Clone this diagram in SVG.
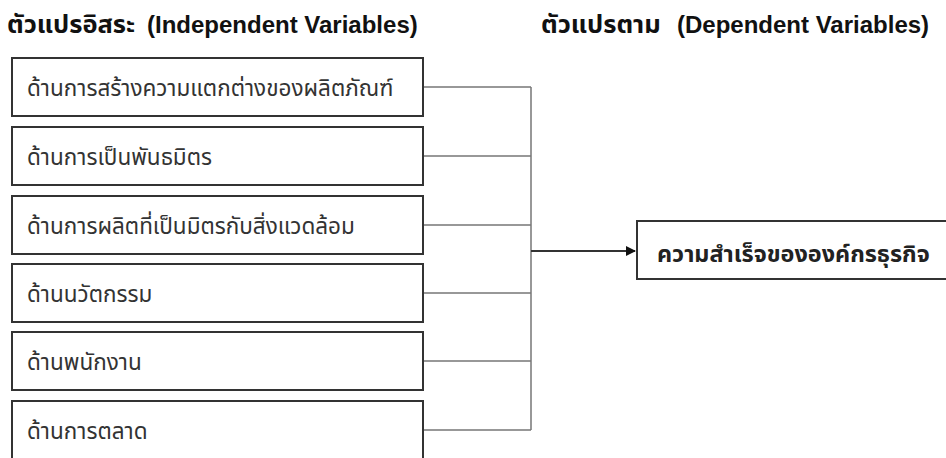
<svg xmlns="http://www.w3.org/2000/svg" width="946" height="458" viewBox="0 0 946 458">
<style>
.title{font-family:"Liberation Sans","Noto Sans Thai",sans-serif;font-size:24px;font-weight:bold;fill:#111}
.th{font-family:"Noto Sans Thai","Liberation Sans",sans-serif;font-size:25.5px}
.box{fill:#fff;stroke:#333;stroke-width:2}
.lbl{font-family:"Noto Sans Thai","Liberation Sans","Noto Sans",sans-serif;font-size:22.5px;fill:#333}
.dlbl{font-family:"Noto Sans Thai","Liberation Sans","Noto Sans",sans-serif;font-size:23.4px;font-weight:bold;fill:#222}
.conn{fill:none;stroke:#777;stroke-width:1.5}
.arrow{fill:none;stroke:#333;stroke-width:2}
</style>
<defs>
<marker id="ah" markerWidth="10" markerHeight="10" refX="9" refY="5" orient="auto" markerUnits="userSpaceOnUse">
<path d="M0,0 L10,5 L0,10 Z" fill="#111"/>
</marker>
</defs>
<rect width="946" height="458" fill="#fff"/>
<g id="titles">
<text class="title" x="7" y="33"><tspan class="th">ตัวแปรอิสระ</tspan><tspan x="147">(Independent Variables)</tspan></text>
<text class="title" x="541" y="33"><tspan class="th">ตัวแปรตาม</tspan><tspan x="677">(Dependent Variables)</tspan></text>
</g>
<g id="connectors">
<path class="conn" d="M423,87 H531 M423,156 H531 M423,225 H531 M423,293 H531 M423,361 H531 M423,430 H531 M531,87 V430"/>
<path class="arrow" d="M531,251 H635" marker-end="url(#ah)"/>
</g>
<g id="n1"><rect class="box" x="12" y="58" width="411" height="58"/><text class="lbl" x="27" y="96">ด้านการสร้างความแตกต่างของผลิตภัณฑ์</text></g>
<g id="n2"><rect class="box" x="12" y="127" width="411" height="58"/><text class="lbl" x="27" y="165">ด้านการเป็นพันธมิตร</text></g>
<g id="n3"><rect class="box" x="12" y="196" width="411" height="58"/><text class="lbl" x="27" y="234">ด้านการผลิตที่เป็นมิตรกับสิ่งแวดล้อม</text></g>
<g id="n4"><rect class="box" x="12" y="264" width="411" height="58"/><text class="lbl" x="27" y="302">ด้านนวัตกรรม</text></g>
<g id="n5"><rect class="box" x="12" y="332" width="411" height="58"/><text class="lbl" x="27" y="370">ด้านพนักงาน</text></g>
<g id="n6"><rect class="box" x="12" y="401" width="411" height="58"/><text class="lbl" x="27" y="439">ด้านการตลาด</text></g>
<g id="dep"><rect class="box" x="637" y="221" width="312" height="58"/><text class="dlbl" x="657" y="262">ความสำเร็จขององค์กรธุรกิจ</text></g>
</svg>
